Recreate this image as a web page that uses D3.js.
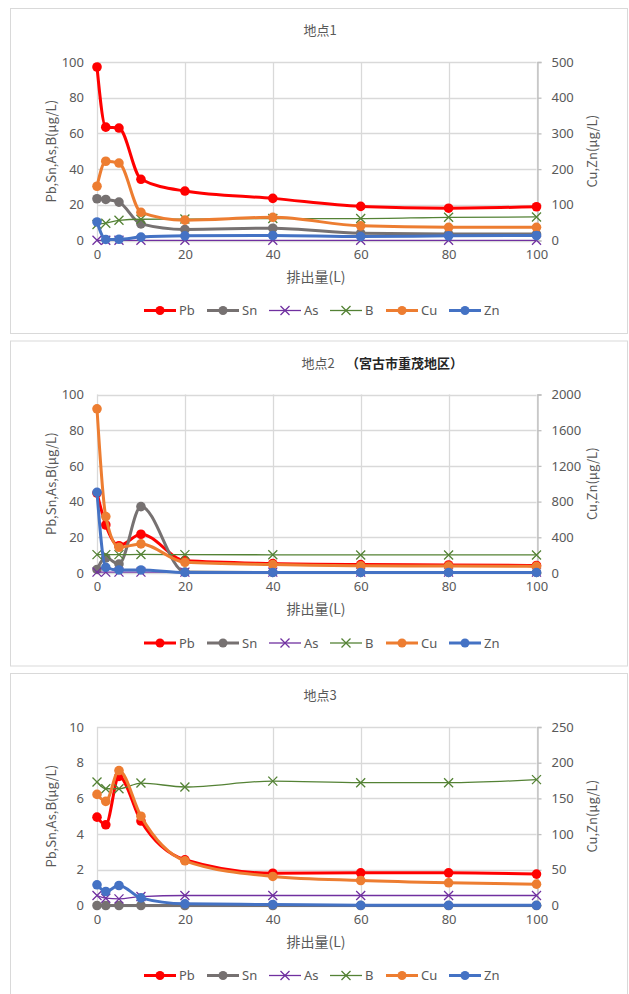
<!DOCTYPE html>
<html>
<head>
<meta charset="utf-8">
<script src="https://cdn.jsdelivr.net/npm/d3@7"></script>
<style>
  html, body { margin: 0; padding: 0; background: #fff; }
  svg { display: block; font-family: "Noto Sans CJK JP", "Noto Sans", sans-serif; }
</style>
</head>
<body>
<svg id="chart" width="629" height="994"></svg>
<script>
// Discharge volume (L) at each sampling point
const volumes = [0, 2, 5, 10, 20, 40, 60, 80, 100];
const xTicks = [0, 20, 40, 60, 80, 100];

const seriesNames = ["Pb", "Sn", "As", "B", "Cu", "Zn"];
const seriesColors = ["#FF0000", "#767171", "#7030A0", "#548235", "#ED7D31", "#4472C4"];

// Site 1 (μg/L)
const site1Pb = [97.2, 63.5, 63.0, 34.3, 27.7, 23.6, 19.1, 18.1, 18.9];
const site1Sn = [23.4, 23.0, 21.5, 9.3, 6.2, 6.9, 4.1, 3.7, 3.6];
const site1As = [0.1, 0.1, 0.1, 0.1, 0.1, 0.1, 0.1, 0.1, 0.1];
const site1B  = [9.0, 9.7, 11.3, 11.9, 12.0, 12.3, 12.3, 13.0, 13.2];
const site1Cu = [152, 222, 217, 79, 57, 65, 41, 37, 37];
const site1Zn = [52, 3, 3.5, 9.5, 13, 14, 11, 13, 14];

// Site 2 (μg/L)
const site2Pb = [44.8, 26.9, 15.3, 21.7, 7.0, 5.3, 4.7, 4.5, 4.2];
const site2Sn = [2.0, 8.5, 5.0, 37.2, 0.5, 0.3, 0.3, 0.3, 0.3];
const site2As = [0.5, 0.5, 0.5, 0.5, 0.5, 0.5, 0.5, 0.5, 0.5];
const site2B  = [10.3, 10.3, 10.3, 10.4, 10.3, 10.2, 10.1, 10.1, 10.1];
const site2Cu = [1840, 632, 288, 326, 120, 94, 80, 78, 74];
const site2Zn = [904, 64, 34, 34, 6, 6, 6, 6, 6];

// Site 3 (μg/L)
const site3Pb = [4.95, 4.52, 7.23, 4.73, 2.56, 1.81, 1.83, 1.83, 1.76];
const site3Sn = [0, 0, 0, 0, 0, 0, 0, 0, 0];
const site3As = [0.56, 0.41, 0.37, 0.50, 0.56, 0.56, 0.56, 0.56, 0.56];
const site3B  = [6.92, 6.54, 6.54, 6.86, 6.64, 6.97, 6.88, 6.88, 7.05];
const site3Cu = [155.6, 145.8, 189, 125, 62.6, 40.7, 35, 31.8, 29.9];
const site3Zn = [29, 19.6, 28, 10.7, 2.3, 1.4, 0.3, 0.3, 0.3];

// Axis ticks per site
const leftTicks1 = [0, 20, 40, 60, 80, 100];
const rightTicks1 = [0, 100, 200, 300, 400, 500];
const leftTicks2 = [0, 20, 40, 60, 80, 100];
const rightTicks2 = [0, 400, 800, 1200, 1600, 2000];
const leftTicks3 = [0, 2, 4, 6, 8, 10];
const rightTicks3 = [0, 50, 100, 150, 200, 250];

const titles = ["地点1", "地点2", "地点3"];
const subtitle2 = "（宮古市重茂地区）";
const xTitle = "排出量(L)";
const leftTitle = "Pb,Sn,As,B(μg/L)";
const rightTitle = "Cu,Zn(μg/L)";

const sites = [
  { title: titles[0], sub: null, left: leftTicks1, right: rightTicks1,
    data: [site1Pb, site1Sn, site1As, site1B, site1Cu, site1Zn] },
  { title: titles[1], sub: subtitle2, left: leftTicks2, right: rightTicks2,
    data: [site2Pb, site2Sn, site2As, site2B, site2Cu, site2Zn] },
  { title: titles[2], sub: null, left: leftTicks3, right: rightTicks3,
    data: [site3Pb, site3Sn, site3As, site3B, site3Cu, site3Zn] }
];

// Which series use the secondary axis, and which use cross markers
const onRight = [false, false, false, false, true, true];
const crossMarker = [false, false, true, true, false, false];

const svg = d3.select("#chart");
const panelStep = 332.5;
const plotLeft = 97, plotRight = 536.5, plotTopBase = 62, plotH = 178.5;
const textGray = "#595959";
const gridGray = "#D9D9D9";
const numFont = "'Noto Sans', sans-serif";
const fmt = d3.format("d");

const x = d3.scaleLinear().domain([0, 100]).range([plotLeft, plotRight]);

sites.forEach((site, i) => {
  const off = i * panelStep;
  const g = svg.append("g");
  const top = plotTopBase + off, bottom = top + plotH;

  // chart frame
  g.append("rect")
    .attr("x", 10.5).attr("y", 8.5 + off)
    .attr("width", 617).attr("height", 325)
    .attr("fill", "#fff").attr("stroke", "#D9D9D9").attr("stroke-width", 1);

  // title
  g.append("text")
    .attr("x", site.sub ? 318 : 320).attr("y", 35 + off)
    .attr("text-anchor", "middle")
    .attr("font-size", 13).attr("fill", textGray)
    .text(site.title);
  if (site.sub) {
    g.append("text")
      .attr("x", 346).attr("y", 35 + off)
      .attr("font-size", 13).attr("font-weight", "bold").attr("fill", "#262626")
      .text(site.sub);
  }

  const yL = d3.scaleLinear().domain([site.left[0], site.left[site.left.length - 1]]).range([bottom, top]);
  const yR = d3.scaleLinear().domain([site.right[0], site.right[site.right.length - 1]]).range([bottom, top]);

  // horizontal gridlines
  g.append("g").selectAll("line").data(site.left).join("line")
    .attr("x1", plotLeft).attr("x2", plotRight)
    .attr("y1", d => Math.round(yL(d)) + 0.5).attr("y2", d => Math.round(yL(d)) + 0.5)
    .attr("stroke", gridGray).attr("stroke-width", 1.3);

  // vertical gridlines
  g.append("g").selectAll("line").data(xTicks).join("line")
    .attr("x1", d => Math.round(x(d)) + 0.5).attr("x2", d => Math.round(x(d)) + 0.5)
    .attr("y1", top).attr("y2", bottom)
    .attr("stroke", gridGray).attr("stroke-width", 1.3);

  // left axis
  const axL = d3.axisLeft(yL).tickValues(site.left).tickFormat(fmt).tickSize(0).tickPadding(13);
  const gL = g.append("g").attr("transform", `translate(${plotLeft},0)`).call(axL);
  gL.select(".domain").remove();
  gL.selectAll("text").attr("font-size", 13).attr("fill", textGray).attr("font-family", numFont);

  // right axis
  const axR = d3.axisRight(yR).tickValues(site.right).tickFormat(fmt).tickSize(4).tickPadding(10);
  const gR = g.append("g").attr("transform", `translate(${Math.round(plotRight) + 0.5},0)`).call(axR);
  gR.select(".domain").attr("stroke", "#BFBFBF").attr("stroke-width", 1.3);
  gR.selectAll("line").attr("stroke", "#BFBFBF").attr("stroke-width", 1.3);
  gR.selectAll("text").attr("font-size", 13).attr("fill", textGray).attr("font-family", numFont);

  // bottom axis labels
  const axB = d3.axisBottom(x).tickValues(xTicks).tickFormat(fmt).tickSize(0).tickPadding(9);
  const gB = g.append("g").attr("transform", `translate(0,${bottom})`).call(axB);
  gB.select(".domain").remove();
  gB.selectAll("text").attr("font-size", 13).attr("fill", textGray).attr("font-family", numFont);

  // axis titles
  g.append("text")
    .attr("transform", `translate(56,${(top + bottom) / 2}) rotate(-90)`)
    .attr("text-anchor", "middle").attr("font-size", 13).attr("fill", textGray)
    .text(leftTitle);
  g.append("text")
    .attr("transform", `translate(597,${(top + bottom) / 2}) rotate(-90)`)
    .attr("text-anchor", "middle").attr("font-size", 13).attr("fill", textGray)
    .text(rightTitle);
  g.append("text")
    .attr("x", 316).attr("y", bottom + 41)
    .attr("text-anchor", "middle").attr("font-size", 14).attr("fill", textGray)
    .text(xTitle);

  // series (smoothed lines, secondary-axis series drawn last)
  site.data.forEach((vals, s) => {
    const y = onRight[s] ? yR : yL;
    const pts = vals.map((v, k) => [x(volumes[k]), y(v)]);
    const thin = crossMarker[s];
    const line = d3.line().curve(d3.curveMonotoneX);
    const sg = g.append("g");
    sg.append("path")
      .attr("d", line(pts))
      .attr("fill", "none")
      .attr("stroke", seriesColors[s])
      .attr("stroke-width", thin ? 1.3 : 3)
      .attr("stroke-linejoin", "round");
    if (thin) {
      const r = 4.5;
      sg.selectAll("path.m").data(pts).join("path").attr("class", "m")
        .attr("d", d => `M${d[0] - r},${d[1] - r}L${d[0] + r},${d[1] + r}M${d[0] - r},${d[1] + r}L${d[0] + r},${d[1] - r}`)
        .attr("stroke", seriesColors[s]).attr("stroke-width", 1.3).attr("fill", "none");
    } else {
      sg.selectAll("circle").data(pts).join("circle")
        .attr("cx", d => d[0]).attr("cy", d => d[1]).attr("r", 4.8)
        .attr("fill", seriesColors[s]);
    }
  });

  // legend
  const legendX = [144, 207, 269, 330, 386, 449];
  const ly = bottom + 70;
  seriesNames.forEach((name, s) => {
    const lx = legendX[s];
    const lg = g.append("g");
    lg.append("line")
      .attr("x1", lx).attr("x2", lx + 32).attr("y1", ly).attr("y2", ly)
      .attr("stroke", seriesColors[s]).attr("stroke-width", crossMarker[s] ? 1.3 : 3);
    const cx = lx + 16;
    if (crossMarker[s]) {
      const r = 4.5;
      lg.append("path")
        .attr("d", `M${cx - r},${ly - r}L${cx + r},${ly + r}M${cx - r},${ly + r}L${cx + r},${ly - r}`)
        .attr("stroke", seriesColors[s]).attr("stroke-width", 1.3);
    } else {
      lg.append("circle").attr("cx", cx).attr("cy", ly).attr("r", 4.5).attr("fill", seriesColors[s]);
    }
    lg.append("text")
      .attr("x", lx + 35).attr("y", ly + 4.5)
      .attr("font-size", 13).attr("fill", textGray).attr("font-family", numFont)
      .text(name);
  });
});
</script>
</body>
</html>
